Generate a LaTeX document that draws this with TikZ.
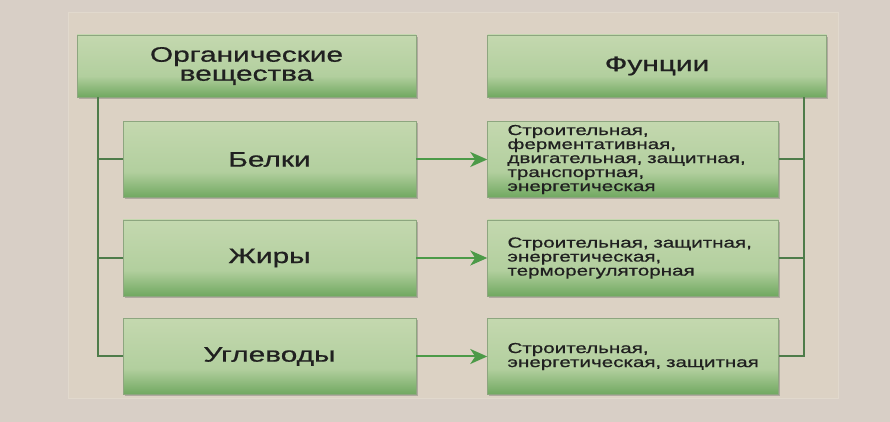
\documentclass[tikz,border=0pt]{standalone}
\usepackage{fontspec}
\setmainfont{Liberation Sans}
\newfontfamily\wideface[FakeStretch=1.42, FakeBold=0.8]{Liberation Sans}
\usetikzlibrary{calc,positioning,arrows.meta,shadows}

\definecolor{pagebg}{HTML}{D8CFC6}
\definecolor{panelbg}{HTML}{DCD2C4}
\definecolor{boxtop}{HTML}{C4D8AF}
\definecolor{boxmid}{HTML}{B2CF9E}
\definecolor{boxbot}{HTML}{70A860}
\definecolor{boxedge}{HTML}{8DA67F}
\definecolor{linkgreen}{HTML}{4E7C4A}
\definecolor{arrowgreen}{HTML}{4C9A48}
\definecolor{inkgray}{HTML}{202020}
\pgfdeclareverticalshading{boxshade}{100bp}{color(0bp)=(boxbot); color(25bp)=(boxbot); color(42bp)=(boxmid); color(75bp)=(boxtop); color(100bp)=(boxtop)}

\begin{document}
\begin{tikzpicture}[x=1pt, y=1pt, node distance=22pt, text=inkgray,
  font=\wideface\fontsize{21}{18}\selectfont,
  blk/.style={rectangle, draw=boxedge, line width=0.5pt, shading=boxshade, align=center, inner sep=0pt,
    minimum height=76pt, minimum width=293pt,
    drop shadow={shadow xshift=1.5pt, shadow yshift=-2pt, opacity=0.3, fill=black!70}},
  head/.style={blk, minimum height=62pt, minimum width=339pt},
  fn/.style={blk, minimum width=291pt, text width=251pt, align=left, font=\wideface\fontsize{14.5}{14}\selectfont},
  link/.style={draw=linkgreen, line width=2pt},
  arr/.style={-{Stealth[length=17pt, width=15pt, inset=5pt]}, draw=arrowgreen, line width=2pt}]
\useasboundingbox (0,0) rectangle (890,422);
\fill[pagebg] (0,0) rectangle (890,422);
\filldraw[fill=panelbg, draw=panelbg!85!white, line width=1pt] (68,23) rectangle (838,409);
\node[head] (org) at (246.5,356) {Органические\\[1pt]вещества};
\node[blk, below left=24pt and 0pt of org.south east] (belki) {Белки};
\node[blk, below=of belki] (zhiry) {Жиры};
\node[blk, below=of zhiry] (ugl) {Углеводы};
\node[head, right=71pt of org] (funk) {Фунции};
\node[fn, right=71pt of belki] (fbelki) {Строительная,\\ферментативная,\\двигательная,~защитная,\\транспортная,\\энергетическая};
\node[fn, right=71pt of zhiry] (fzhiry) {Строительная,~защитная,\\энергетическая,\\терморегуляторная};
\node[fn, right=71pt of ugl] (fugl) {Строительная,\\энергетическая,~защитная};
\coordinate (ltop) at ($(org.south west)+(21pt,0)$);
\coordinate (rtop) at ($(funk.south east)+(-23pt,0)$);
\foreach \n in {belki,zhiry,ugl} \draw[link] (ltop) |- (\n.west);
\foreach \n in {fbelki,fzhiry,fugl} \draw[link] (rtop) |- (\n.east);
\draw[arr] (belki) -- (fbelki);
\draw[arr] (zhiry) -- (fzhiry);
\draw[arr] (ugl) -- (fugl);
\end{tikzpicture}
\end{document}
